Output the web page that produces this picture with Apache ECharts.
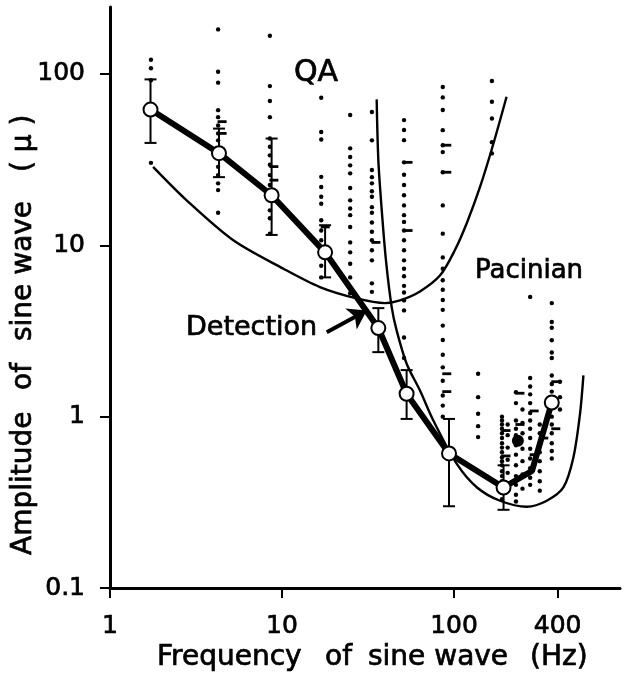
<!DOCTYPE html>
<html><head><meta charset="utf-8">
<script src="https://cdn.jsdelivr.net/npm/echarts@6/dist/echarts.min.js"></script>
<style>html,body{margin:0;padding:0;background:#fff}#c{width:624px;height:682px}</style>
</head><body><div id="c"></div>
<script>
// ---- data ----
const xTicks = [1, 10, 100, 400];
const yTicks = [0.1, 1, 10, 100];

// detection threshold (mean) line
const detFreq = [1.72, 4.3, 8.7, 17.8, 36.3, 53, 93.5, 194, 284, 370];
const detAmp  = [62, 34.5, 19.6, 9.1, 3.29, 1.36, 0.61, 0.386, 0.483, 1.21];
const detCircle = [true, true, true, true, true, true, true, true, false, true];

// error bars
const errFreq = [1.72, 4.3, 8.7, 17.8, 36.3, 53, 93.5, 194];
const errLow  = [39.6, 25, 11.5, 6.5, 2.38, 0.97, 0.30, 0.286];
const errHigh = [93, 48, 42, 13.1, 4.3, 1.87, 0.97, 0.52];

// QA afferent tuning curve
const qaFreq = [1.78, 2.79, 5.21, 10.2, 16.6, 27.2, 39.6, 48.5, 63.4, 83, 101, 119, 141.6, 168.5, 202];
const qaAmp  = [28.7, 18.3, 10.7, 7.3, 5.71, 4.9, 4.6, 4.77, 5.38, 6.68, 9.35, 13.6, 21.9, 38.5, 73.6];

// Pacinian afferent tuning curve
const pacFreq = [35.5, 36.3, 38.0, 40.2, 43.4, 46.4, 53.1, 63.4, 75.8, 104, 136, 185, 265, 346, 432, 494, 540, 565];
const pacAmp  = [71.1, 31.4, 16.0, 8.17, 4.36, 3.18, 2.03, 1.42, 0.95, 0.528, 0.386, 0.323, 0.298, 0.323, 0.386, 0.578, 1.04, 1.74];

// individual thresholds (dot columns)
const colFreqs = [1.73, 4.25, 8.5, 16.9, 24.9, 33.3, 51.2, 86, 138, 166, 190, 205, 229, 250, 277, 315, 370, 413];
const colAmps = [
  [121, 108, 92, 30.3],
  [182, 103, 89, 61.5, 56, 50, 45, 41, 28.7, 25.7, 23, 21, 15.5],
  [167, 85, 69.5, 56, 42, 37.6, 33.5, 29.5, 25.7, 22.5, 18.3, 16, 14.4, 11.7],
  [72.7, 45.9, 41.5, 25.1, 21.9, 19.2, 17.5, 14, 12.2, 10.7, 7.6, 6.5],
  [57.6, 36.8, 32.8, 29.3, 26.3, 21.6, 18.3, 16.4, 15, 12.8, 10.4, 9.1, 7.8, 6.5, 5.25],
  [60, 41, 27.5, 25, 23, 20.7, 19.2, 16.7, 15.5, 13.6, 12, 10.7, 9.35, 8.17, 6, 5.35],
  [53.8, 47.1, 41.1, 30.5, 25.8, 22.5, 19.6, 17.1, 15, 13.7, 12.2, 10.7, 9.35, 8.17, 7.3, 6.6, 5.8, 5.3, 4.77, 4.17, 2.9, 2.2],
  [84, 73, 61.6, 47, 38.4, 35, 26.7, 17.1, 11.7, 8.5, 7.3, 6.25, 5.5, 4.8, 4.2, 3.4, 2.8, 2.3, 1.94, 1.62, 1.33, 1.16, 1.0],
  [1.78, 1.30, 1.04, 0.88, 0.76],
  [91, 68.8, 55, 40, 34.4],
  [1.0, 0.95, 0.9, 0.85, 0.8, 0.75, 0.7, 0.66, 0.62, 0.58, 0.55, 0.52, 0.48, 0.45, 0.42, 0.39, 0.36, 0.33],
  [0.9, 0.78, 0.66, 0.56, 0.47, 0.4],
  [1.39, 1.2, 0.95, 0.85, 0.78, 0.68, 0.6, 0.52, 0.45, 0.4, 0.35, 0.32],
  [1.1, 0.92, 0.8, 0.65, 0.55, 0.46, 0.38],
  [5.0, 1.68, 1.5, 1.35, 1.2, 1.05, 0.95, 0.85, 0.75, 0.65, 0.57, 0.5, 0.44, 0.4],
  [0.9, 0.8, 0.7, 0.62, 0.55, 0.48, 0.42, 0.37],
  [4.6, 3.57, 3.3, 2.79, 2.37, 2.2, 1.74, 1.55, 1.4, 1.25, 1.12, 1.0, 0.9, 0.8, 0.7, 0.63, 0.57],
  [1.6, 1.3, 1.1]
];

// short horizontal marks (individual means)
const dashFreq = [4.25, 4.25, 8.5, 8.5, 16.9, 33.3, 51.2, 51.2, 86, 86, 86, 86, 190, 190, 229, 229, 277, 277, 315, 370, 370];
const dashAmp  = [52.7, 45, 28.8, 24, 12.8, 10.4, 30.5, 12.2, 38.4, 26.7, 1.78, 1.4, 0.83, 0.59, 1.37, 0.9, 1.08, 0.6, 0.75, 1.6, 0.85];

// larger filled mean point
const fillFreq = [235];
const fillAmp  = [0.724];

// arrow from "Detection" label
const arrowFrom = [18.2, 3.11];
const arrowTo   = [31.1, 4.17];

// ---- chart ----
const chart = echarts.init(document.getElementById('c'), null, {renderer: 'canvas'});
const FONT = 'DejaVu Sans';
const zip = (a, b) => a.map((v, i) => [v, b[i]]);
const dots = [];
colFreqs.forEach((f, i) => colAmps[i].forEach(a => dots.push([f, a])));

const txt = (extra) => Object.assign({fontFamily: FONT, fill: '#000', stroke: '#000', lineWidth: 0.7}, extra);
const labelStyle = {color: '#000', fontFamily: FONT, fontSize: 25, textBorderColor: '#000', textBorderWidth: 0.7};
const lineStyleAxis = {color: '#000', width: 3};
const tickStyle = {color: '#000', width: 2};

chart.setOption({
  animation: false,
  backgroundColor: '#fff',
  grid: {left: 110, right: 4, top: 7, bottom: 94, containLabel: false},
  xAxis: {
    type: 'log', logBase: 10, min: 1, max: 922,
    axisLine: {show: true, lineStyle: lineStyleAxis},
    axisTick: {show: true, inside: false, length: 10, lineStyle: tickStyle, customValues: xTicks},
    splitLine: {show: false},
    axisLabel: Object.assign({}, labelStyle, {customValues: xTicks, margin: 26, formatter: v => String(v)})
  },
  yAxis: {
    type: 'log', logBase: 10, min: 0.1, max: 246,
    axisLine: {show: true, lineStyle: lineStyleAxis},
    axisTick: {show: true, inside: false, length: 10, lineStyle: tickStyle, customValues: yTicks},
    splitLine: {show: false},
    axisLabel: Object.assign({}, labelStyle, {customValues: yTicks, margin: 25, formatter: v => String(v)})
  },
  graphic: [
    // x axis title
    {type: 'text', x: 157, y: 658, style: txt({text: 'Frequency', fontSize: 28, verticalAlign: 'middle'})},
    {type: 'text', x: 325, y: 658, style: txt({text: 'of', fontSize: 28, verticalAlign: 'middle'})},
    {type: 'text', x: 368, y: 658, style: txt({text: 'sine wave', fontSize: 28, verticalAlign: 'middle'})},
    {type: 'text', x: 530, y: 658, style: txt({text: '(Hz)', fontSize: 28, verticalAlign: 'middle', letterSpacing: 2})},
    // y axis title (reads bottom to top)
    {type: 'text', x: 24, y: 555, rotation: Math.PI / 2, style: txt({text: 'Amplitude', fontSize: 28, align: 'left', verticalAlign: 'middle'})},
    {type: 'text', x: 24, y: 390, rotation: Math.PI / 2, style: txt({text: 'of', fontSize: 28, align: 'left', verticalAlign: 'middle'})},
    {type: 'text', x: 24, y: 341, rotation: Math.PI / 2, style: txt({text: 'sine wave', fontSize: 28, align: 'left', verticalAlign: 'middle'})},
    {type: 'text', x: 24, y: 172, rotation: Math.PI / 2, style: txt({text: '( μ )', fontSize: 28, align: 'left', verticalAlign: 'middle'})},
    // curve labels
    {type: 'text', x: 294, y: 73, style: txt({text: 'QA', fontSize: 30, verticalAlign: 'middle'})},
    {type: 'text', x: 475, y: 271, style: txt({text: 'Pacinian', fontSize: 26, verticalAlign: 'middle'})},
    {type: 'text', x: 186, y: 328, style: txt({text: 'Detection', fontSize: 27, verticalAlign: 'middle'})}
  ],
  series: [
    {type: 'scatter', data: dots, symbol: 'circle', symbolSize: 4.4, itemStyle: {color: '#000', opacity: 1}, z: 2},
    {type: 'scatter', data: zip(dashFreq, dashAmp), symbol: 'rect', symbolSize: [9, 2.8], symbolOffset: [4, 0], itemStyle: {color: '#000', opacity: 1}, z: 2},
    {type: 'line', data: zip(qaFreq, qaAmp), smooth: 0.3, showSymbol: false, lineStyle: {color: '#000', width: 2.4}, z: 3},
    {type: 'line', data: zip(pacFreq, pacAmp), smooth: 0.3, showSymbol: false, lineStyle: {color: '#000', width: 2.4}, z: 3},
    {type: 'custom', z: 4,
     data: errFreq.map((f, i) => [f, errLow[i], errHigh[i]]),
     renderItem: (params, api) => {
       const lo = api.coord([api.value(0), api.value(1)]);
       const hi = api.coord([api.value(0), api.value(2)]);
       const w = 6;
       const st = {stroke: '#000', lineWidth: 2};
       return {type: 'group', children: [
         {type: 'line', shape: {x1: lo[0], y1: lo[1], x2: hi[0], y2: hi[1]}, style: st},
         {type: 'line', shape: {x1: lo[0] - w, y1: lo[1], x2: lo[0] + w, y2: lo[1]}, style: st},
         {type: 'line', shape: {x1: hi[0] - w, y1: hi[1], x2: hi[0] + w, y2: hi[1]}, style: st}
       ]};
     }},
    {type: 'line', z: 5,
     data: detFreq.map((f, i) => ({value: [f, detAmp[i]], symbol: detCircle[i] ? 'emptyCircle' : 'none'})),
     symbolSize: 14, showAllSymbol: true,
     itemStyle: {color: '#000', borderColor: '#000', borderWidth: 1.6},
     lineStyle: {color: '#000', width: 6}},
    {type: 'scatter', z: 6, data: zip(fillFreq, fillAmp), symbol: 'circle', symbolSize: 12, itemStyle: {color: '#000', opacity: 1}},
    {type: 'lines', coordinateSystem: 'cartesian2d', z: 7,
     data: [{coords: [arrowFrom, arrowTo]}],
     symbol: ['none', 'arrow'], symbolSize: [0, 18],
     lineStyle: {color: '#000', width: 4, opacity: 1}}
  ]
});
</script></body></html>
